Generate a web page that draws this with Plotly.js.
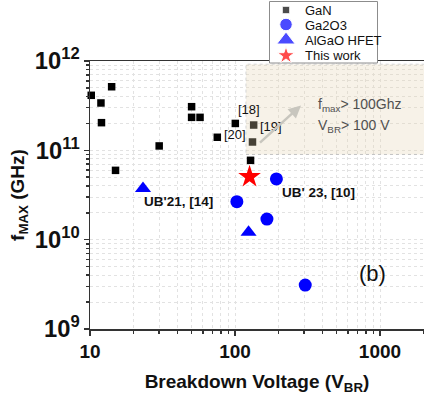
<!DOCTYPE html>
<html>
<head>
<meta charset="utf-8">
<script src="https://cdn.plot.ly/plotly-3.0.1.min.js"></script>
<style>html,body{margin:0;padding:0;background:#fff;}#chart{width:424px;height:395px;}</style>
</head>
<body>
<div id="chart"></div>
<script>
// ---- data ----
const ganV = [10.2, 11.9, 12.0, 14.1, 15.0, 30.0, 50.2, 50.2, 57.4, 75.5, 100.5, 134.5, 132, 128];
const ganF = [4.13e11, 3.39e11, 2.04e11, 5.15e11, 5.97e10, 1.12e11, 3.08e11, 2.34e11, 2.34e11, 1.40e11, 2.0e11, 1.92e11, 1.24e11, 7.73e10];
const ga2o3V = [193, 103, 166, 305];
const ga2o3F = [4.78e10, 2.66e10, 1.70e10, 3.1e9];
const algaoV = [23.2, 124];
const algaoF = [3.75e10, 1.21e10];
const thisV = [126];
const thisF = [5.06e10];
const seriesNames = ['GaN', 'Ga2O3', 'AlGaO HFET', 'This work'];
const refLabels = ['[18]', '[20]', '[19]', "UB'21, [14]", "UB' 23, [10]"];
const regionV = [119, 3000];
const regionF = [9.0e10, 9.2e11];

const FONT = 'Liberation Sans, Arial, sans-serif';
const grid = {showgrid: true, gridcolor: '#e2e2e2', griddash: 'dot', gridwidth: 1};

// legend frame corners in overlay pixel coordinates
const frameX = [269.5, 377.5, 377.5, 269.5, 269.5];
const frameY = [1.5, 1.5, 63, 63, 1.5];

const traces = [
  {x: ganV, y: ganF, mode: 'markers', name: seriesNames[0], cliponaxis: false,
   marker: {symbol: 'square', size: 7.5, color: '#000'}, showlegend: false},
  {x: ga2o3V, y: ga2o3F, mode: 'markers', name: seriesNames[1], cliponaxis: false,
   marker: {symbol: 'circle', size: 13, color: '#0000ff'}, showlegend: false},
  {x: algaoV, y: algaoF, mode: 'markers', name: seriesNames[2], cliponaxis: false,
   marker: {symbol: 'triangle-up', size: 14, color: '#0000ff'}, showlegend: false},
  {x: thisV, y: thisF, mode: 'markers', name: seriesNames[3], cliponaxis: false,
   marker: {symbol: 'star', size: 17, color: '#ff0000'}, showlegend: false},
  // legend frame (white box, covers the top frame line)
  {x: frameX, y: frameY, xaxis: 'x2', yaxis: 'y2', mode: 'lines', fill: 'toself',
   fillcolor: '#ffffff', line: {color: '#8c8c8c', width: 1}, cliponaxis: false,
   showlegend: false, hoverinfo: 'skip'},
  // legend key symbols (overlay pixel axes)
  {x: [286, 286, 286, 286], y: [10, 24.5, 40, 55.5], xaxis: 'x2', yaxis: 'y2', mode: 'markers',
   cliponaxis: false, showlegend: false, hoverinfo: 'skip',
   marker: {symbol: ['square', 'circle', 'triangle-up', 'star'], size: [7.5, 12.5, 16, 13],
            color: ['#000', '#0000ff', '#0000ff', '#ff0000']}}
];

const legendTextY = [10, 25, 40, 55];
const annotations = [];
seriesNames.forEach((n, i) => annotations.push({
  xref: 'x2', yref: 'y2', x: 303, y: legendTextY[i], text: n, showarrow: false,
  xanchor: 'left', yanchor: 'middle', font: {family: FONT, size: 13, color: '#111'}
}));
const refPos = [[249, 109], [235, 134], [271, 126]];
refPos.forEach((p, i) => annotations.push({
  xref: 'x2', yref: 'y2', x: p[0], y: p[1], text: refLabels[i], showarrow: false,
  font: {family: FONT, size: 13, color: '#111'}
}));
annotations.push({xref: 'x2', yref: 'y2', x: 178, y: 201, text: '<b>' + refLabels[3] + '</b>', showarrow: false,
  font: {family: FONT, size: 13.5, color: '#111'}});
annotations.push({xref: 'x2', yref: 'y2', x: 318, y: 192, text: '<b>' + refLabels[4] + '</b>', showarrow: false,
  font: {family: FONT, size: 13.5, color: '#111'}});
annotations.push({xref: 'x2', yref: 'y2', x: 316, y: 105, text: 'f<sub>max</sub>&gt; 100Ghz', showarrow: false,
  xanchor: 'left', font: {family: FONT, size: 14, color: '#505050'}});
annotations.push({xref: 'x2', yref: 'y2', x: 316, y: 126, text: 'V<sub>BR</sub>&gt; 100 V', showarrow: false,
  xanchor: 'left', font: {family: FONT, size: 14, color: '#505050'}});
annotations.push({xref: 'x2', yref: 'y2', x: 372, y: 273, text: '(b)', showarrow: false,
  font: {family: FONT, size: 22, color: '#111'}});
annotations.push({xref: 'x2', yref: 'y2', axref: 'x2', ayref: 'y2', x: 301, y: 105.5, ax: 258.5, ay: 144,
  text: '', showarrow: true, arrowhead: 2, arrowsize: 1, arrowwidth: 2.5, arrowcolor: 'rgb(200,198,190)'});

const layout = {
  width: 424, height: 395,
  margin: {l: 90, r: 0, t: 0, b: 66},
  paper_bgcolor: '#fff', plot_bgcolor: 'rgba(0,0,0,0)',
  showlegend: false,
  font: {family: FONT, color: '#000'},
  xaxis: Object.assign({
    type: 'log', range: [1, 3.3034], domain: [0, 1], anchor: 'y',
    dtick: 1, exponentformat: 'none',
    showline: true, linecolor: '#333', linewidth: 1.5, mirror: true,
    ticks: 'outside', ticklen: 5, tickwidth: 1.5, tickcolor: '#333',
    minor: Object.assign({dtick: 'D1', ticks: 'outside', ticklen: 3, tickcolor: '#333'}, grid),
    tickfont: {family: FONT, size: 19, weight: 'bold', color: '#111'},
    title: {text: 'Breakdown Voltage (V<sub>BR</sub>)', standoff: 13,
            font: {family: FONT, size: 19, weight: 'bold', color: '#111'}},
    zeroline: false
  }, grid),
  yaxis: Object.assign({
    type: 'log', range: [9, 12], domain: [0, 268 / 329], anchor: 'x',
    dtick: 1, exponentformat: 'power', showexponent: 'all',
    showline: true, linecolor: '#333', linewidth: 1.5, mirror: false,
    ticks: 'outside', ticklen: 5, tickwidth: 1.5, tickcolor: '#333',
    minor: Object.assign({dtick: 'D1', ticks: 'outside', ticklen: 3, tickcolor: '#333'}, grid),
    tickfont: {family: FONT, size: 19, weight: 'bold', color: '#111'},
    title: {text: 'f<sub>MAX</sub> (GHz)', standoff: 5,
            font: {family: FONT, size: 19, weight: 'bold', color: '#111'}},
    zeroline: false
  }, grid),
  xaxis2: {domain: [0, 1], range: [90, 424], anchor: 'y2', visible: false, fixedrange: true},
  yaxis2: {domain: [0, 1], range: [329, 0], anchor: 'x2', visible: false, fixedrange: true},
  shapes: [
    {type: 'rect', xref: 'x', yref: 'y', x0: regionV[0], x1: regionV[1], y0: regionF[0], y1: regionF[1],
     layer: 'above', fillcolor: 'rgb(230,215,180)', opacity: 0.3,
     line: {color: 'rgb(120,120,120)', width: 1, dash: 'dot'}}
  ],
  annotations: annotations
};

Plotly.newPlot('chart', traces, layout, {displayModeBar: false, staticPlot: true});
</script>
</body>
</html>
